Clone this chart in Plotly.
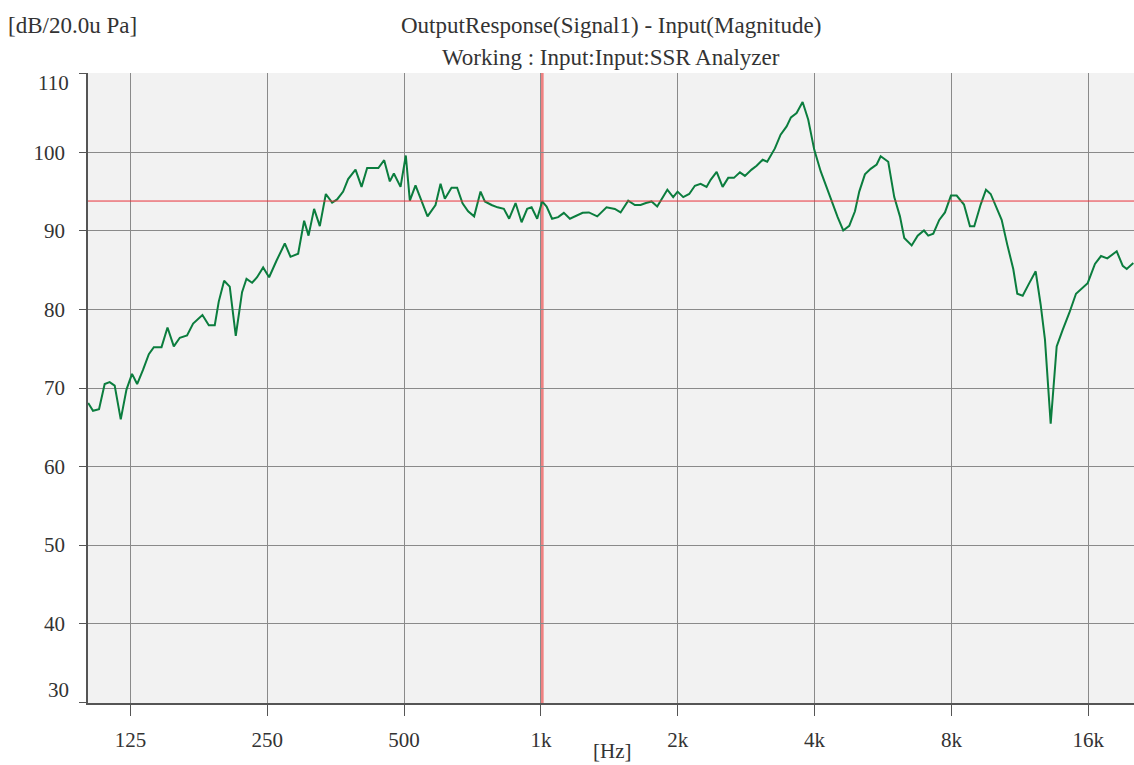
import plotly.graph_objects as go

# Frequency response data
freq_hz = [100.9, 103.4, 106.6, 109.7, 112.5, 115.4, 119.0, 122.5, 126.0, 129.3,
           133.2, 137.2, 140.7, 146.3, 150.8, 155.7, 160.5, 166.5, 171.7, 180.0,
           185.9, 191.6, 195.5, 200.9, 206.7, 213.1, 220.0, 225.0, 231.5, 237.4,
           244.8, 252.3, 261.9, 273.2, 281.2, 292.3, 301.3, 308.1, 316.9, 326.2,
           336.3, 347.2, 356.1, 367.1, 376.5, 390.9, 403.0, 414.6, 426.7, 438.8,
           451.9, 465.1, 474.7, 491.0, 504.3, 514.7, 529.7, 546.1, 562.9, 586.2,
           601.3, 614.5, 635.7, 654.0, 672.2, 691.5, 712.9, 736.4, 752.6, 778.6,
           802.6, 828.7, 851.2, 879.3, 906.5, 932.6, 953.6, 981.1, 1006, 1029,
           1058, 1091, 1123, 1158, 1198, 1235, 1275, 1330, 1394, 1454,
           1497, 1556, 1609, 1656, 1702, 1751, 1802, 1897, 1954, 1998,
           2056, 2119, 2181, 2245, 2314, 2362, 2435, 2510, 2582, 2658,
           2740, 2810, 2907, 2982, 3074, 3146, 3271, 3367, 3471, 3548,
           3651, 3764, 3873, 3992, 4124, 4264, 4373, 4495, 4624, 4767,
           4907, 5015, 5161, 5313, 5477, 5589, 5808, 5988, 6163, 6299,
           6540, 6742, 6960, 7113, 7296, 7521, 7741, 7980, 8214, 8524,
           8786, 8980, 9276, 9529, 9759, 10024, 10317, 10614, 10942, 11166,
           11476, 11866, 12257, 12571, 12848, 13225, 13633, 14054, 14532, 15034,
           15475, 15950, 16550, 17066, 17617, 18478, 19052, 19440, 20100]

level_db = [68.1, 67.1, 67.3, 70.5, 70.75, 70.3, 66.0, 69.8, 71.8, 70.5,
            72.3, 74.3, 75.2, 75.2, 77.7, 75.3, 76.4, 76.7, 78.2, 79.3,
            78.0, 78.0, 81.0, 83.65, 82.9, 76.65, 82.2, 83.9, 83.4, 84.1,
            85.35, 84.1, 86.2, 88.4, 86.7, 87.1, 91.3, 89.4, 92.8, 90.6,
            94.7, 93.6, 94.0, 95.0, 96.6, 97.8, 95.6, 98.0, 98.0, 98.0,
            99.0, 96.3, 97.3, 95.6, 99.6, 93.85, 95.8, 93.75, 91.85, 93.3,
            96.0, 94.1, 95.5, 95.5, 93.5, 92.5, 91.85, 95.0, 93.75, 93.3,
            93.0, 92.8, 91.55, 93.55, 91.1, 92.8, 93.0, 91.55, 93.75, 93.1,
            91.55, 91.75, 92.3, 91.55, 91.95, 92.3, 92.35, 91.85, 93.0, 92.8,
            92.35, 93.85, 93.3, 93.3, 93.55, 93.75, 93.1, 95.25, 94.3, 95.0,
            94.3, 94.7, 95.75, 96.0, 95.6, 96.5, 97.5, 95.6, 96.75, 96.75,
            97.45, 97.0, 97.8, 98.3, 99.05, 98.8, 100.5, 102.25, 103.3, 104.45,
            105.0, 106.4, 104.15, 100.35, 97.6, 95.25, 93.45, 91.75, 90.05, 90.65,
            92.5, 95.0, 97.2, 97.9, 98.45, 99.5, 98.8, 94.3, 91.85, 89.1,
            88.15, 89.4, 90.05, 89.4, 89.65, 91.4, 92.35, 94.5, 94.5, 93.35,
            90.6, 90.6, 93.35, 95.25, 94.7, 93.2, 91.4, 88.25, 85.15, 82.0,
            81.75, 83.35, 84.85, 80.6, 76.15, 65.45, 75.3, 77.4, 79.55, 82.0,
            82.6, 83.35, 85.8, 86.8, 86.5, 87.4, 85.55, 85.15, 85.9]

x_tick_vals = [125, 250, 500, 1000, 2000, 4000, 8000, 16000]
x_tick_text = ["125", "250", "500", "1k", "2k", "4k", "8k", "16k"]
y_tick_vals = [30, 40, 50, 60, 70, 80, 90, 100, 110]
y_tick_text = ["", "40", "50", "60", "70", "80", "90", "100", ""]

reference_level_db = 93.8
cursor_freq_hz = 1006

title_line1 = "OutputResponse(Signal1) - Input(Magnitude)"
title_line2 = "Working : Input:Input:SSR Analyzer"
y_unit = "[dB/20.0u Pa]"
x_unit = "[Hz]"

FONT = "Liberation Serif"
TXT = "#333333"
W, H = 1134, 765
ML, MR, MT, MB = 88, 0, 73, 62
PW, PH = W - ML - MR, H - MT - MB

fig = go.Figure()

fig.add_trace(go.Scatter(
    x=freq_hz, y=level_db, mode="lines",
    line=dict(color="#0b7d3e", width=2),
    hoverinfo="x+y", showlegend=False,
))

# reference level (horizontal) and cursor (vertical)
fig.add_shape(type="line", xref="paper", x0=0, x1=1, yref="y",
              y0=reference_level_db, y1=reference_level_db,
              line=dict(color="#e8323a", width=1), layer="above")
fig.add_shape(type="line", xref="x", x0=cursor_freq_hz, x1=cursor_freq_hz,
              yref="paper", y0=0, y1=1,
              line=dict(color="rgba(238,110,110,0.85)", width=3), layer="below")

fig.update_xaxes(
    type="log", range=[2.0035, 4.3047],
    tickvals=x_tick_vals, ticktext=x_tick_text,
    showgrid=True, gridcolor="#8a8a8a", gridwidth=1,
    ticks="outside", ticklen=11, tickcolor="#555555", tickwidth=1,
    ticklabelstandoff=6,
    showline=True, linecolor="#555555", linewidth=1.5,
    tickfont=dict(family=FONT, size=21, color=TXT),
    zeroline=False,
)
fig.update_yaxes(
    range=[29.9, 110.1],
    tickvals=y_tick_vals, ticktext=y_tick_text,
    showgrid=True, gridcolor="#8a8a8a", gridwidth=1,
    ticks="outside", ticklen=7, tickcolor="#555555", tickwidth=1,
    ticklabelstandoff=10,
    showline=True, linecolor="#555555", linewidth=1.5,
    tickfont=dict(family=FONT, size=21, color=TXT),
    zeroline=False,
)

fig.update_layout(
    width=W, height=H,
    margin=dict(l=ML, r=MR, t=MT, b=MB),
    plot_bgcolor="#f2f2f2", paper_bgcolor="#ffffff",
    font=dict(family=FONT, size=21, color=TXT),
    showlegend=False,
)


def pix_y(py):
    return 1 - (py - MT) / PH


def pix_x(px):
    return (px - ML) / PW


fig.add_annotation(text=title_line1, xref="paper", yref="paper", x=0.5, y=pix_y(25),
                   showarrow=False, font=dict(family=FONT, size=23, color=TXT),
                   xanchor="center", yanchor="middle")
fig.add_annotation(text=title_line2, xref="paper", yref="paper", x=0.5, y=pix_y(57),
                   showarrow=False, font=dict(family=FONT, size=23, color=TXT),
                   xanchor="center", yanchor="middle")
fig.add_annotation(text=y_unit, xref="paper", yref="paper", x=pix_x(6),
                   y=pix_y(25), showarrow=False, xanchor="left", yanchor="middle",
                   font=dict(family=FONT, size=23, color=TXT))
fig.add_annotation(text=x_unit, xref="paper", yref="paper", x=pix_x(612),
                   y=pix_y(751), showarrow=False, xanchor="center", yanchor="middle",
                   font=dict(family=FONT, size=21, color=TXT))
# end labels of the level axis, nudged inside like the reference
fig.add_annotation(text="110", xref="paper", yref="y", x=pix_x(71), y=110,
                   yshift=-9, showarrow=False, xanchor="right", yanchor="middle",
                   font=dict(family=FONT, size=21, color=TXT))
fig.add_annotation(text="30", xref="paper", yref="y", x=pix_x(71), y=30,
                   yshift=12, showarrow=False, xanchor="right", yanchor="middle",
                   font=dict(family=FONT, size=21, color=TXT))

fig.write_html("out.html", config={"displayModeBar": False},
               post_script="document.body.style.margin='0';document.body.style.overflow='hidden';")
